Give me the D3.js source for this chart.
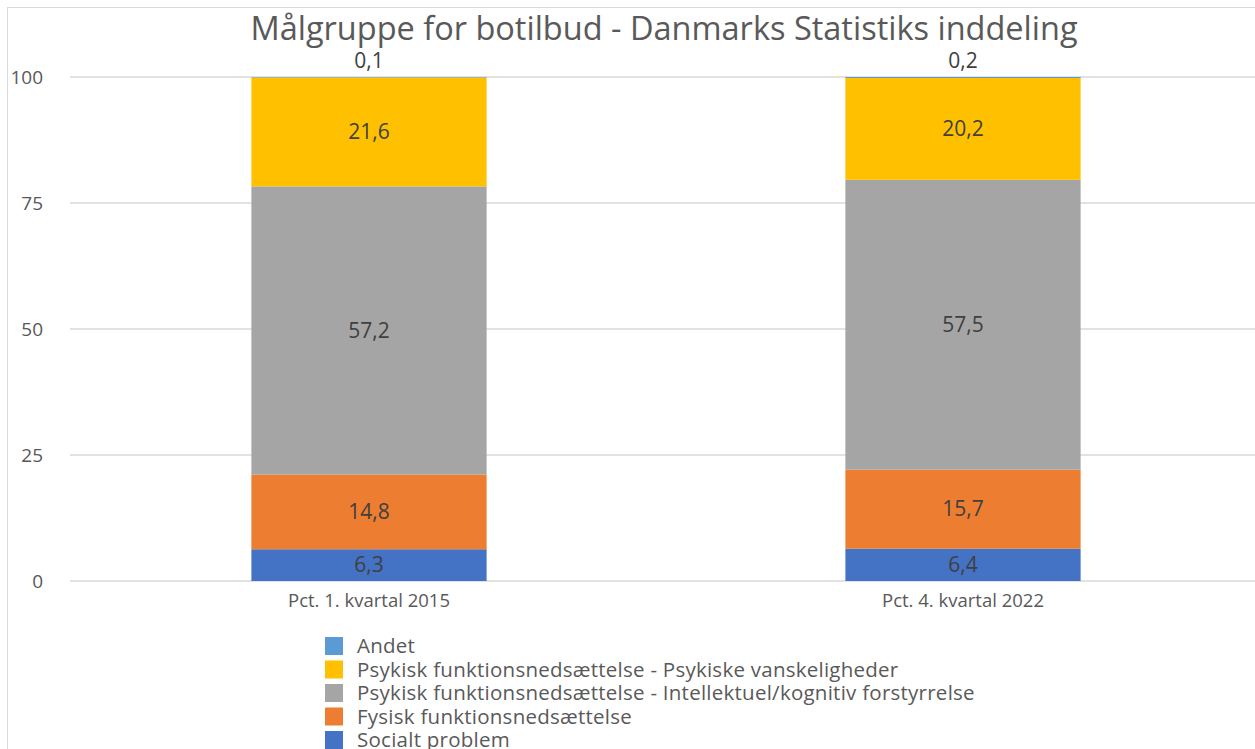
<!doctype html>
<html>
<head>
<meta charset="UTF-8">
<script src="https://d3js.org/d3.v7.min.js"></script>
<style>
  body { margin: 0; background: #fff; }
  text { font-family: "Open Sans", Lato, sans-serif; }
</style>
</head>
<body>
<div id="chart"></div>
<script>
// data
var categories = ["Pct. 1. kvartal 2015", "Pct. 4. kvartal 2022"];
var seriesNames = [
  "Socialt problem",
  "Fysisk funktionsnedsættelse",
  "Psykisk funktionsnedsættelse - Intellektuel/kognitiv forstyrrelse",
  "Psykisk funktionsnedsættelse - Psykiske vanskeligheder",
  "Andet"
];
var socialt = [6.3, 6.4];
var fysisk = [14.8, 15.7];
var intellektuel = [57.2, 57.5];
var psykiske = [21.6, 20.2];
var andet = [0.1, 0.2];
var yTicks = [0, 25, 50, 75, 100];
var colors = ["#4472c4", "#ed7d31", "#a5a5a5", "#ffc000", "#5b9bd5"];

var w = 1255, h = 749;
var svg = d3.select("#chart").append("svg")
    .attr("width", w)
    .attr("height", h);

svg.append("rect")
    .attr("x", 7.5).attr("y", 7.5)
    .attr("width", w + 20).attr("height", h + 20)
    .attr("fill", "#fff")
    .attr("stroke", "#d9d9d9");

// table for the stack
var rows = categories.map(function(c, i) {
  return {cat: c, s0: socialt[i], s1: fysisk[i], s2: intellektuel[i], s3: psykiske[i], s4: andet[i]};
});
var keys = ["s0", "s1", "s2", "s3", "s4"];
var stacked = d3.stack().keys(keys)(rows);

var x = d3.scaleBand()
    .domain(categories)
    .range([72, 1260])
    .paddingInner(0.604)
    .paddingOuter(0.302);

var y = d3.scaleLinear()
    .domain([0, 100])
    .range([581, 77]);

var fmt = d3.formatLocale({decimal: ",", thousands: ".", grouping: [3], currency: ["", ""]}).format(".1f");

// gridlines
svg.append("g").selectAll("line")
    .data(yTicks)
    .enter().append("line")
    .attr("x1", 70).attr("x2", w)
    .attr("y1", function(d) { return y(d); })
    .attr("y2", function(d) { return y(d); })
    .attr("stroke", "#d9d9d9")
    .attr("stroke-width", 1.5);

// y tick labels
svg.append("g").selectAll("text")
    .data(yTicks)
    .enter().append("text")
    .attr("x", 43)
    .attr("y", function(d) { return y(d) + 6.5; })
    .attr("text-anchor", "end")
    .attr("fill", "#595959")
    .style("font-size", "19px")
    .text(function(d) { return d; });

// bars
var layer = svg.append("g").selectAll("g")
    .data(stacked)
    .enter().append("g")
    .attr("fill", function(d, i) { return colors[i]; });

layer.selectAll("rect")
    .data(function(d) { return d; })
    .enter().append("rect")
    .attr("x", function(d) { return x(d.data.cat); })
    .attr("width", x.bandwidth())
    .attr("y", function(d) { return y(d[1]); })
    .attr("height", function(d) { return y(d[0]) - y(d[1]); });

// data labels
layer.each(function(s, si) {
  d3.select(this).selectAll("text")
    .data(s)
    .enter().append("text")
    .attr("x", function(d) { return x(d.data.cat) + x.bandwidth() / 2; })
    .attr("y", function(d) {
      if (si == 4) return y(d[1]) - 9;
      return (y(d[0]) + y(d[1])) / 2 + 7;
    })
    .attr("text-anchor", "middle")
    .attr("fill", "#404040")
    .style("font-size", "21px")
    .text(function(d) { return fmt(d[1] - d[0]); });
});

// category labels
svg.append("g").selectAll("text")
    .data(categories)
    .enter().append("text")
    .attr("x", function(d) { return x(d) + x.bandwidth() / 2; })
    .attr("y", 607)
    .attr("text-anchor", "middle")
    .attr("fill", "#595959")
    .style("font-size", "18.5px")
    .text(function(d) { return d; });

// title
svg.append("text")
    .attr("x", 664)
    .attr("y", 40)
    .attr("text-anchor", "middle")
    .attr("fill", "#595959")
    .style("font-size", "32.5px")
    .text("Målgruppe for botilbud - Danmarks Statistiks inddeling");

// legend, top to bottom is reversed series order
var legendOrder = d3.range(seriesNames.length).reverse();
var leg = svg.append("g").selectAll("g")
    .data(legendOrder)
    .enter().append("g")
    .attr("transform", function(d, i) { return "translate(325," + (646 + i * 23.5) + ")"; });

leg.append("rect")
    .attr("x", 0).attr("y", -9)
    .attr("width", 18).attr("height", 18)
    .attr("fill", function(d) { return colors[d]; });

leg.append("text")
    .attr("x", 32)
    .attr("y", 7)
    .attr("fill", "#595959")
    .style("font-size", "20.5px")
    .style("letter-spacing", "0.25px")
    .text(function(d) { return seriesNames[d]; });
</script>
</body>
</html>
